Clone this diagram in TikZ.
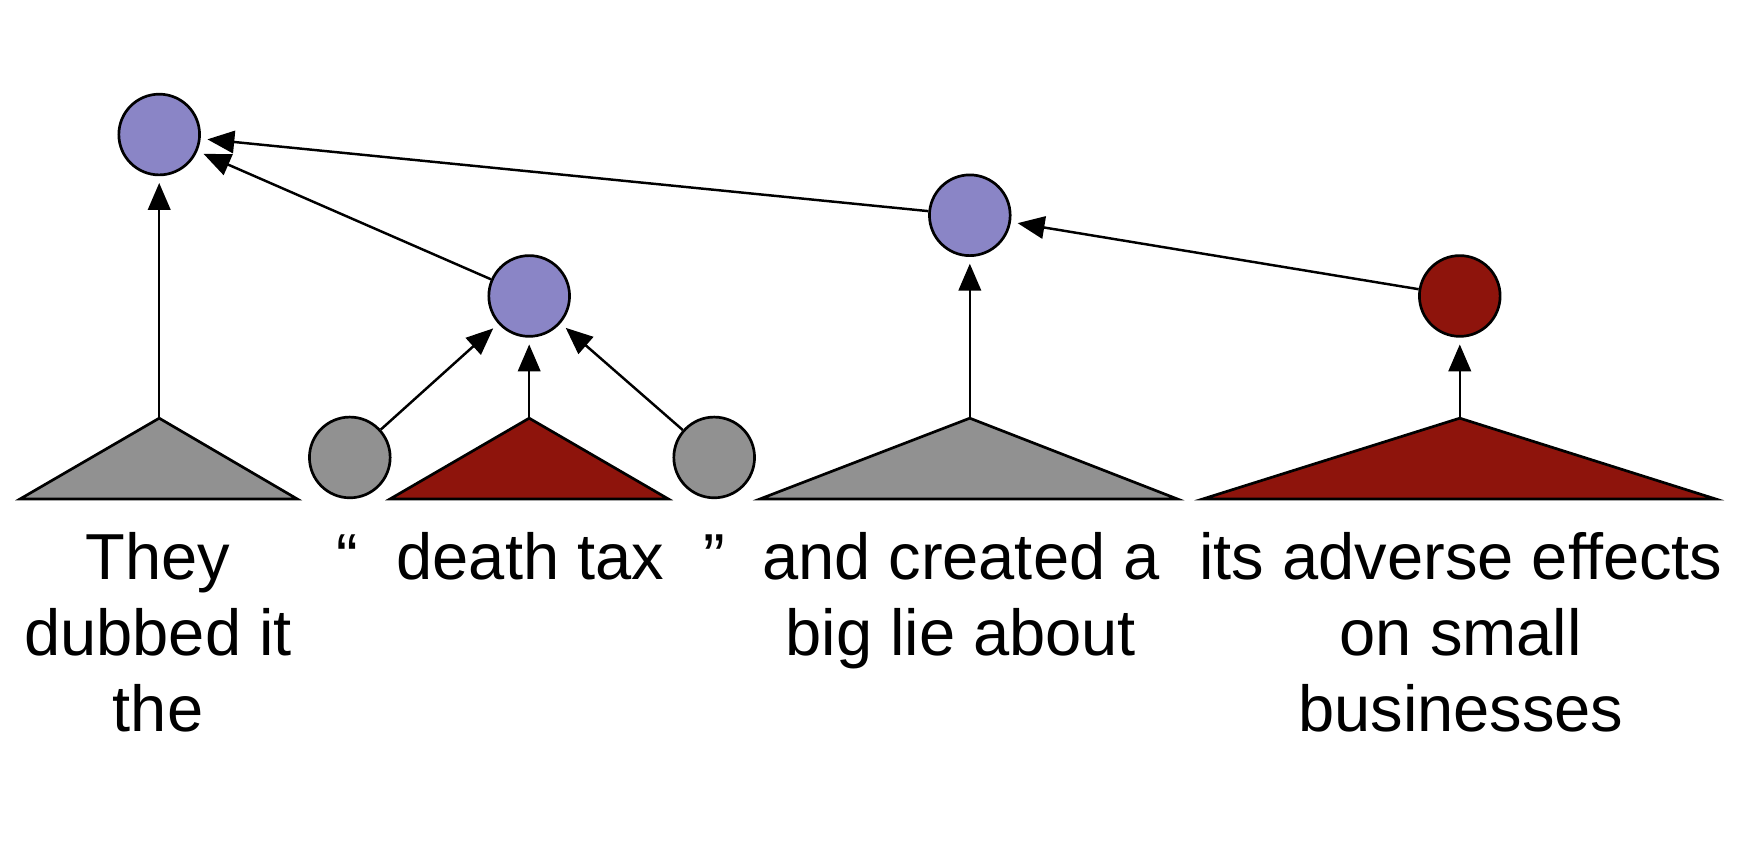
\documentclass[tikz,border=0pt]{standalone}
\usepackage{fontspec}
\setmainfont{Liberation Sans}
\usetikzlibrary{arrows.meta}
\definecolor{cpurple}{RGB}{138,133,198}
\definecolor{cgray}{RGB}{145,145,145}
\definecolor{cred}{RGB}{142,20,12}
\tikzset{
  x=0.5pt, y=-0.5pt,
  dot/.style={circle, draw=black, line width=1.2pt, minimum size=36pt, inner sep=0pt},
  tri/.style={draw=black, line width=1.2pt, line join=miter},
  edge/.style={draw=black, line width=1.1pt, -{Triangle[length=12pt,width=10pt]}, shorten >=3pt},
  word/.style={font=\fontsize{29}{33.75}\selectfont, align=center, anchor=base, inner sep=0pt}
}
\begin{document}
\begin{tikzpicture}
\useasboundingbox (0,0) rectangle (1568,753);
% triangles
\filldraw[tri, fill=cgray] (18,445) -- (142,373) coordinate (t1) -- (265,445) -- cycle;
\filldraw[tri, fill=cred] (348,445) -- (472,373) coordinate (t2) -- (596,445) -- cycle;
\filldraw[tri, fill=cgray] (678,445) -- (865,373) coordinate (t3) -- (1050,445) -- cycle;
\filldraw[tri, fill=cred] (1073,445) -- (1302,373) coordinate (t4) -- (1530,445) -- cycle;
% circles
\node[dot, fill=cpurple] (root) at (142,120) {};
\node[dot, fill=cpurple] (dt) at (472,264) {};
\node[dot, fill=cpurple] (mid) at (865,192) {};
\node[dot, fill=cred] (rc) at (1302,264) {};
\node[dot, fill=cgray] (q1) at (312,408) {};
\node[dot, fill=cgray] (q2) at (637,408) {};
% edges
\draw[edge] (t1) -- (root);
\draw[edge] (dt) -- (root);
\draw[edge] (mid) -- (root);
\draw[edge] (rc) -- (mid);
\draw[edge] (q1) -- (dt);
\draw[edge] (t2) -- (dt);
\draw[edge] (q2) -- (dt);
\draw[edge] (t3) -- (mid);
\draw[edge] (t4) -- (rc);
% texts (base anchor = baseline of last line)
\node[word] (w1) at (141,652) {They\\dubbed it\\the};
\node[word] (w2) at (310,517) {“};
\node[word] (w3) at (473,517) {death tax};
\node[word] (w4) at (637,517) {”};
\node[word] (w5) at (857,584.5) {and created a\\big lie about};
\node[word] (w6) at (1303,652) {its adverse effects\\on small\\businesses};
\end{tikzpicture}
\end{document}
